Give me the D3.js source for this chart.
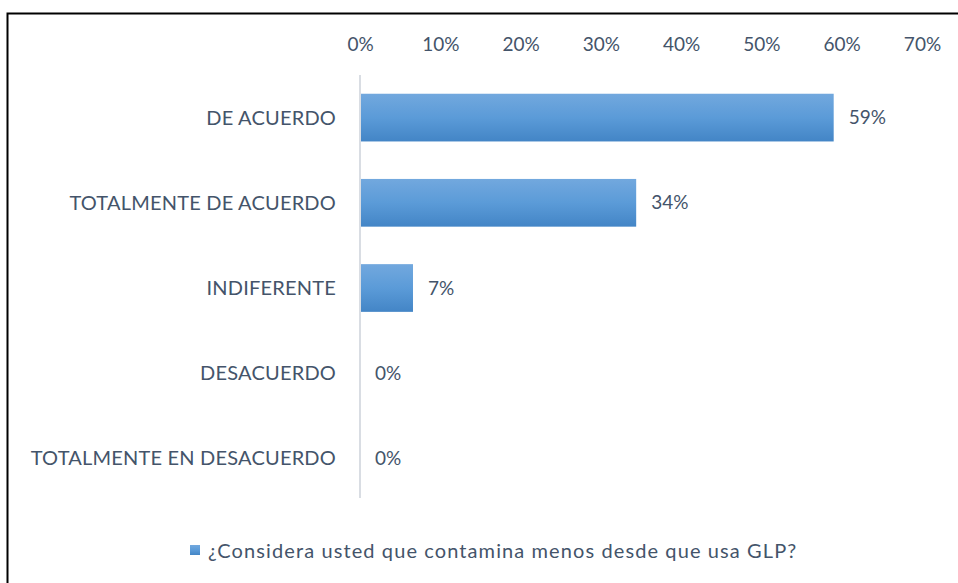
<!DOCTYPE html>
<html>
<head>
<meta charset="utf-8">
<script src="https://cdn.jsdelivr.net/npm/d3@7"></script>
<style>
  body { margin: 0; background: #fff; }
  svg { display: block; font-family: Lato, "Open Sans", sans-serif; }
</style>
</head>
<body>
<div id="chart"></div>
<script>
// Data
var categories = ["DE ACUERDO", "TOTALMENTE DE ACUERDO", "INDIFERENTE", "DESACUERDO", "TOTALMENTE EN DESACUERDO"];
var values = [59, 34.4, 6.6, 0, 0];
var valueLabels = ["59%", "34%", "7%", "0%", "0%"];
var ticks = [0, 10, 20, 30, 40, 50, 60, 70];
var seriesName = "¿Considera usted que contamina menos desde que usa GLP?";

var W = 958, H = 583;
var textColor = "#44546a";

var svg = d3.select("#chart").append("svg")
    .attr("width", W)
    .attr("height", H);

// gradient for bars
var defs = svg.append("defs");
var grad = defs.append("linearGradient")
    .attr("id", "barGrad")
    .attr("x1", 0).attr("y1", 0).attr("x2", 0).attr("y2", 1);
grad.append("stop").attr("offset", "0%").attr("stop-color", "#72a8de");
grad.append("stop").attr("offset", "50%").attr("stop-color", "#5b9bd8");
grad.append("stop").attr("offset", "100%").attr("stop-color", "#4385c6");

// outer border
svg.append("rect")
    .attr("x", 7.5).attr("y", 13.5)
    .attr("width", W + 10).attr("height", H + 10)
    .attr("fill", "none")
    .attr("stroke", "#000")
    .attr("stroke-width", 2);

// Scales
var x = d3.scaleLinear().domain([0, 70]).range([360, 922]);
var y = d3.scaleBand().domain(categories).range([75, 501]).paddingInner(0.44).paddingOuter(0.22);

// Top axis labels
var xAxis = svg.append("g")
    .attr("transform", "translate(0,44)")
    .call(d3.axisTop(x).tickValues(ticks).tickFormat(d => d + "%").tickSize(0).tickPadding(0));
xAxis.select(".domain").remove();
xAxis.selectAll("text")
    .attr("fill", textColor)
    .attr("font-size", "19px")
    .attr("font-family", "Lato, sans-serif")
    .attr("dy", "0.35em");

// vertical axis line
svg.append("line")
    .attr("x1", x(0)).attr("x2", x(0))
    .attr("y1", 75).attr("y2", 498)
    .attr("stroke", "#d9dde3")
    .attr("stroke-width", 2);

// Bars
svg.selectAll("rect.bar")
    .data(values)
    .enter()
    .append("rect")
    .attr("class", "bar")
    .attr("x", x(0) + 1)
    .attr("y", (d, i) => y(categories[i]))
    .attr("width", d => Math.max(0, x(d) - x(0) - 1))
    .attr("height", y.bandwidth())
    .attr("fill", "url(#barGrad)");

// Category labels
svg.selectAll("text.cat")
    .data(categories)
    .enter()
    .append("text")
    .attr("class", "cat")
    .attr("x", 336)
    .attr("y", d => y(d) + y.bandwidth() / 2)
    .attr("dy", "0.35em")
    .attr("text-anchor", "end")
    .attr("fill", textColor)
    .attr("font-size", "20px")
    .attr("letter-spacing", "0.2px")
    .text(d => d);

// Value labels
svg.selectAll("text.val")
    .data(values)
    .enter()
    .append("text")
    .attr("class", "val")
    .attr("x", d => x(d) + 15)
    .attr("y", (d, i) => y(categories[i]) + y.bandwidth() / 2)
    .attr("dy", "0.35em")
    .attr("fill", textColor)
    .attr("font-size", "19px")
    .text((d, i) => valueLabels[i]);

// Legend
var legend = svg.append("g");
legend.append("rect")
    .attr("x", 190).attr("y", 545)
    .attr("width", 10).attr("height", 10)
    .attr("fill", "url(#barGrad)");
legend.append("text")
    .attr("x", 208)
    .attr("y", 551)
    .attr("dy", "0.35em")
    .attr("fill", textColor)
    .attr("font-size", "20px")
    .attr("letter-spacing", "1.1px")
    .text(seriesName);
</script>
</body>
</html>
